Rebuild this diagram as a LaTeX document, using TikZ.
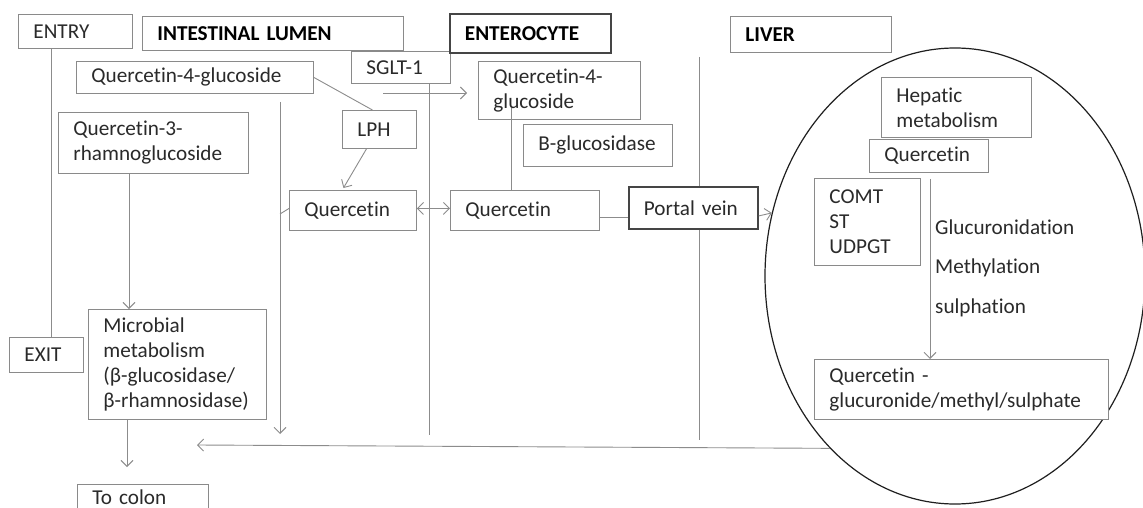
\documentclass[tikz,border=0pt]{standalone}
\usepackage{fontspec}
\setmainfont{Carlito}[Ligatures=NoCommon]
\usetikzlibrary{arrows.meta,shapes.geometric,calc}
\definecolor{boxgray}{HTML}{8A8A8A}
\definecolor{linegray}{HTML}{8C8C8C}
\definecolor{darkbox}{HTML}{454545}
\definecolor{txt}{HTML}{2A2A2A}
\newcommand\mybox[7][]{%
  \pgfmathsetmacro\bw{#5-#3}%
  \pgfmathsetmacro\bh{#6-#4}%
  \pgfmathsetmacro\tw{#5-#3-30}%
  \node[bx,#1,minimum width=\bw pt,minimum height=\bh pt,text width=\tw pt] (#2) at (#3,#4) {#7};}
\tikzset{
  bx/.style={draw=boxgray, line width=0.9pt, anchor=north west, inner xsep=15pt, inner ysep=0pt,
    align=left, text=txt, fill=white, font=\fontsize{21.2}{25}\selectfont},
  darkb/.style={draw=darkbox, line width=1.8pt},
  hd/.style={font=\fontsize{21.2}{25}\selectfont\bfseries, text=black},
  ln/.style={draw=linegray, line width=0.9pt},
  arr/.style={ln, -{Straight Barb[length=6pt,width=12pt]}},
  darr/.style={ln, {Straight Barb[length=6pt,width=12pt]}-{Straight Barb[length=6pt,width=12pt]}},
  lbl/.style={anchor=west, inner sep=0pt, text=txt, font=\fontsize{21.2}{25}\selectfont},
}
\begin{document}
\begin{tikzpicture}[x=1pt,y=-1pt]
\useasboundingbox[fill=white] (0,0) rectangle (1143,508);
% liver ellipse
\node[ellipse, draw=black!88, line width=1.2pt, minimum width=380pt, minimum height=456pt, inner sep=0pt] (liv) at (955,276) {};
% boxes
\mybox{entry}{18}{14}{132}{48}{ENTRY}
\mybox[hd]{lumen}{142}{16}{403}{50}{INTESTINAL LUMEN}
\mybox{sglt}{351}{51}{450}{83}{SGLT-1}
\mybox[hd,darkb]{entero}{449}{13}{610}{52}{ENTEROCYTE}
\mybox[hd]{liver}{730}{16}{891}{52}{LIVER}
\mybox{q4g}{76}{61}{313}{93}{Quercetin-4-glucoside}
\mybox{q3r}{58}{112}{248}{173}{Quercetin-3-\\rhamnoglucoside}
\mybox{lph}{342}{110}{416}{148}{LPH}
\mybox{q4gr}{478}{61}{640}{119}{Quercetin-4-\\glucoside}
\mybox{bglu}{523}{124}{672}{166}{B-glucosidase}
\mybox{qa}{289}{190}{416}{230}{Quercetin}
\mybox{qb}{450}{190}{599}{230}{Quercetin}
\mybox[darkb]{pv}{628}{186}{757}{228}{Portal vein}
\mybox{hep}{881}{77}{1031}{137}{Hepatic\\metabolism}
\mybox{ql}{869}{139}{988}{172}{Quercetin}
\mybox{comt}{814}{178}{920}{265}{COMT\\ST\\UDPGT}
\mybox{fin}{814}{359}{1108}{419}{Quercetin -\\glucuronide/methyl/sulphate}
\mybox{micro}{88}{309}{266}{419}{Microbial\\metabolism\\(β-glucosidase/\\β-rhamnosidase)}
\mybox{exit}{9}{337}{83}{372}{EXIT}
\mybox{colon}{77}{484}{208}{509.5}{To colon}
% labels
\node[lbl] (glu) at (935,227) {Glucuronidation};
\node[lbl] (met) at (935,268) {Methylation};
\node[lbl] (sul) at (935,308) {sulphation};
% helper coordinates
\coordinate (x51) at (51,0);
\coordinate (x129) at (129,0);
\coordinate (x127) at (127,0);
\coordinate (x429) at (429,0);
\coordinate (x511) at (511,0);
\coordinate (x699) at (699,0);
\coordinate (x930) at (930,0);
\coordinate (lumtop) at (280,102);
\coordinate (lumbot) at (280,434);
\coordinate (stroke) at (280,214);
\coordinate (colontip) at (127,467);
\coordinate (sgltA) at (383,93);
\coordinate (sgltB) at (467,93);
\coordinate (enbot) at (429,435);
\coordinate (qgtop) at (511,108);
\coordinate (livtop) at (699,57);
\coordinate (livbot) at (699,440);
\coordinate (backtip) at (197,445);
% connectors
\draw[ln] (entry.south -| x51) -- (exit.north -| x51);
\draw[ln] (q4g.east) -- ([xshift=-7pt]lph.north);
\draw[arr] (lumtop) -- (lumbot);
\draw[ln] ([yshift=2pt]qa.west) -- (stroke);
\draw[arr] ([xshift=-13pt]lph.south) -- ([xshift=-9.5pt,yshift=2pt]qa.north);
\draw[arr] (q3r.south -| x129) -- (micro.north -| x129);
\draw[arr] (micro.south -| x127) -- (colontip);
\draw[arr] (sgltA) -- (sgltB);
\draw[ln] (sglt.south -| x429) -- (enbot);
\draw[darr] ([yshift=2pt]qa.east) -- ([yshift=2pt]qb.west);
\draw[ln] (qgtop) -- (qb.north -| x511);
\draw[ln] ([yshift=-7pt]qb.east) -- ([yshift=-7pt]qb.east -| pv.west);
\draw[arr] ([yshift=-8pt]pv.east) -- (liv.161.6);
\draw[ln] (livtop) -- (pv.north -| x699);
\draw[ln] (pv.south -| x699) -- (livbot);
\draw[arr] ([yshift=-6pt]ql.south -| x930) -- (fin.north -| x930);
\draw[arr] (liv.234) -- (backtip);
\end{tikzpicture}
\end{document}
